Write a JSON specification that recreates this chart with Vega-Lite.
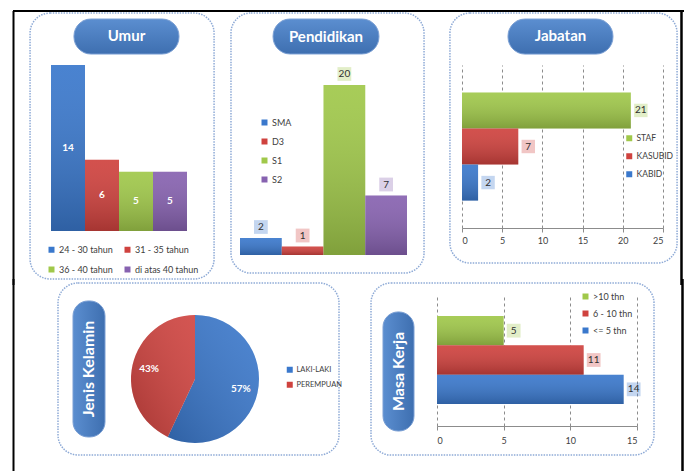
{
  "$schema": "https://vega.github.io/schema/vega-lite/v6.json",
  "background": "white",
  "padding": {"left": 12, "top": 9, "right": 0, "bottom": 0},
  "config": {
    "view": {"stroke": null},
    "font": "Lato",
    "legend": {"labelFont": "Lato", "labelColor": "#404040", "labelFontSize": 9, "symbolType": "square", "symbolSize": 36, "symbolOpacity": 1, "symbolStrokeWidth": 0, "labelOffset": 3}
  },
  "spacing": -10,
  "resolve": {"scale": {"color": "independent"}, "legend": {"color": "independent"}},
  "vconcat": [
    {
      "spacing": -7,
      "resolve": {"scale": {"color": "independent"}, "legend": {"color": "independent"}},
      "hconcat": [
        {
          "width": 136, "height": 166,
          "resolve": {"scale": {"x": "independent", "y": "independent"}},
          "layer": [
            {
              "data": {"values": [{"judul": "Umur"}]},
              "layer": [
                {"mark": {"type": "rule", "color": "black", "strokeWidth": 2},
                 "encoding": {"x": {"datum": -0.2794, "type": "quantitative", "scale": {"domain": [0, 1], "nice": false}, "axis": null}, "x2": {"datum": 1.3529},
                              "y": {"datum": 1.3253, "type": "quantitative", "scale": {"domain": [0, 1], "nice": false}, "axis": null}}},
                {"mark": {"type": "rule", "color": "black", "strokeWidth": 2},
                 "encoding": {"x": {"datum": -0.2757, "type": "quantitative", "scale": {"domain": [0, 1], "nice": false}, "axis": null},
                              "y": {"datum": 1.3253, "type": "quantitative", "scale": {"domain": [0, 1], "nice": false}, "axis": null}, "y2": {"datum": -0.3253}}},
                {"mark": {"type": "rect", "cornerRadius": 20, "filled": false, "stroke": "#8eaad6", "strokeWidth": 1.5, "strokeDash": [1.5, 1.2]},
                 "encoding": {"x": {"datum": -0.154, "type": "quantitative", "scale": {"domain": [0, 1], "nice": false}, "axis": null}, "x2": {"datum": 1.199},
                              "y": {"datum": -0.289, "type": "quantitative", "scale": {"domain": [0, 1], "nice": false}, "axis": null}, "y2": {"datum": 1.313}}},
                {"mark": {"type": "rect", "cornerRadius": 17, "stroke": "#7a9fd4", "strokeWidth": 1, "fill": {"gradient": "linear", "x1": 0, "y1": 0, "x2": 0, "y2": 1, "stops": [{"offset": 0, "color": "#5b8ed0"}, {"offset": 1, "color": "#3e6fb0"}]}},
                 "encoding": {"x": {"datum": 0.169, "type": "quantitative", "scale": {"domain": [0, 1], "nice": false}, "axis": null}, "x2": {"datum": 0.941},
                              "y": {"datum": 1.066, "type": "quantitative", "scale": {"domain": [0, 1], "nice": false}, "axis": null}, "y2": {"datum": 1.277}}},
                {"mark": {"type": "text", "color": "white", "fontWeight": "bold", "fontSize": 15, "baseline": "middle"},
                 "encoding": {"x": {"datum": 0.555, "type": "quantitative", "scale": {"domain": [0, 1], "nice": false}, "axis": null},
                              "y": {"datum": 1.172, "type": "quantitative", "scale": {"domain": [0, 1], "nice": false}, "axis": null},
                              "text": {"field": "judul"}}}
              ]
            },
            {
              "data": {"values": [{"kelompok": "24 - 30 tahun", "jumlah": 14}, {"kelompok": "31 - 35 tahun", "jumlah": 6}, {"kelompok": "36 - 40 tahun", "jumlah": 5}, {"kelompok": "di atas 40 tahun", "jumlah": 5}]},
              "encoding": {
                "x": {"field": "kelompok", "type": "nominal", "sort": null, "scale": {"paddingInner": 0, "paddingOuter": 0}, "axis": null},
                "y": {"field": "jumlah", "type": "quantitative", "scale": {"domain": [0, 14], "nice": false}, "axis": null}
              },
              "layer": [
                {"mark": {"type": "bar"},
                 "encoding": {"color": {"field": "kelompok", "type": "nominal", "sort": null,
                   "scale": {"domain": ["24 - 30 tahun", "31 - 35 tahun", "36 - 40 tahun", "di atas 40 tahun"], "range": ["#3a78cc", "#cf423e", "#a0c84a", "#8762b0"]},
                   "legend": {"title": null, "orient": "none", "direction": "horizontal", "legendX": -4, "legendY": 180, "columns": 2, "columnPadding": 10, "rowPadding": 10}}}},
                {"mark": {"type": "bar", "fill": {"gradient": "linear", "x1": 0, "y1": 0, "x2": 0, "y2": 1, "stops": [{"offset": 0, "color": "rgba(255,255,255,0.08)"}, {"offset": 1, "color": "rgba(0,0,0,0.2)"}]}}}
              ]
            },
            {
              "data": {"values": [{"kelompok": "24 - 30 tahun", "jumlah": 14}, {"kelompok": "31 - 35 tahun", "jumlah": 6}, {"kelompok": "36 - 40 tahun", "jumlah": 5}, {"kelompok": "di atas 40 tahun", "jumlah": 5}]},
              "mark": {"type": "text", "color": "white", "fontWeight": "bold", "fontSize": 10, "baseline": "middle"},
              "encoding": {
                "x": {"field": "kelompok", "type": "nominal", "sort": null, "scale": {"paddingInner": 0, "paddingOuter": 0}, "axis": null},
                "y": {"field": "jumlah", "type": "quantitative", "scale": {"domain": [0, 28], "nice": false}, "axis": null},
                "text": {"field": "jumlah"}
              }
            }
          ]
        },
        {
          "spacing": -6,
          "resolve": {"scale": {"color": "independent"}, "legend": {"color": "independent"}},
          "hconcat": [
            {
              "width": 167, "height": 190,
              "resolve": {"scale": {"x": "independent", "y": "independent"}},
              "layer": [
                {
                  "data": {"values": [{"judul": "Pendidikan"}]},
                  "layer": [
                    {"mark": {"type": "rule", "color": "black", "strokeWidth": 2},
                     "encoding": {"x": {"datum": -0.0539, "type": "quantitative", "scale": {"domain": [0, 1], "nice": false}, "axis": null}, "x2": {"datum": 1.2635},
                                  "y": {"datum": 1.2842, "type": "quantitative", "scale": {"domain": [0, 1], "nice": false}, "axis": null}}},
                    {"mark": {"type": "rect", "cornerRadius": 20, "filled": false, "stroke": "#8eaad6", "strokeWidth": 1.5, "strokeDash": [1.5, 1.2]},
                     "encoding": {"x": {"datum": -0.054, "type": "quantitative", "scale": {"domain": [0, 1], "nice": false}, "axis": null}, "x2": {"datum": 1.102},
                                  "y": {"datum": -0.095, "type": "quantitative", "scale": {"domain": [0, 1], "nice": false}, "axis": null}, "y2": {"datum": 1.274}}},
                    {"mark": {"type": "rect", "cornerRadius": 17, "stroke": "#7a9fd4", "strokeWidth": 1, "fill": {"gradient": "linear", "x1": 0, "y1": 0, "x2": 0, "y2": 1, "stops": [{"offset": 0, "color": "#5b8ed0"}, {"offset": 1, "color": "#3e6fb0"}]}},
                     "encoding": {"x": {"datum": 0.198, "type": "quantitative", "scale": {"domain": [0, 1], "nice": false}, "axis": null}, "x2": {"datum": 0.832},
                                  "y": {"datum": 1.058, "type": "quantitative", "scale": {"domain": [0, 1], "nice": false}, "axis": null}, "y2": {"datum": 1.242}}},
                    {"mark": {"type": "text", "color": "white", "fontWeight": "bold", "fontSize": 15, "baseline": "middle"},
                     "encoding": {"x": {"datum": 0.515, "type": "quantitative", "scale": {"domain": [0, 1], "nice": false}, "axis": null},
                                  "y": {"datum": 1.150, "type": "quantitative", "scale": {"domain": [0, 1], "nice": false}, "axis": null},
                                  "text": {"field": "judul"}}}
                  ]
                },
                {
                  "data": {"values": [{"tingkat": "SMA", "jumlah": 2}, {"tingkat": "D3", "jumlah": 1}, {"tingkat": "S1", "jumlah": 20}, {"tingkat": "S2", "jumlah": 7}]},
                  "encoding": {
                    "x": {"field": "tingkat", "type": "nominal", "sort": null, "scale": {"paddingInner": 0, "paddingOuter": 0}, "axis": null},
                    "y": {"field": "jumlah", "type": "quantitative", "scale": {"domain": [0, 22.353], "nice": false}, "axis": null}
                  },
                  "layer": [
                    {"mark": {"type": "bar"},
                     "encoding": {"color": {"field": "tingkat", "type": "nominal", "sort": null,
                       "scale": {"domain": ["SMA", "D3", "S1", "S2"], "range": ["#3a78cc", "#cf423e", "#a0c84a", "#8762b0"]},
                       "legend": {"title": null, "orient": "none", "legendX": 20, "legendY": 53, "rowPadding": 9}}}},
                    {"mark": {"type": "bar", "fill": {"gradient": "linear", "x1": 0, "y1": 0, "x2": 0, "y2": 1, "stops": [{"offset": 0, "color": "rgba(255,255,255,0.08)"}, {"offset": 1, "color": "rgba(0,0,0,0.2)"}]}}},
                    {"mark": {"type": "point", "shape": "square", "filled": true, "size": 190, "fillOpacity": 0.3, "yOffset": -11},
                     "encoding": {"color": {"field": "tingkat", "type": "nominal", "sort": null}}},
                    {"mark": {"type": "text", "color": "#303030", "fontSize": 10, "baseline": "middle", "yOffset": -11},
                     "encoding": {"text": {"field": "jumlah"}}}
                  ]
                }
              ]
            },
            {
              "width": 201, "height": 163,
              "resolve": {"scale": {"x": "independent", "y": "independent"}},
              "layer": [
                {
                  "data": {"values": [{"judul": "Jabatan"}]},
                  "layer": [
                    {"mark": {"type": "rule", "color": "black", "strokeWidth": 2},
                     "encoding": {"x": {"datum": -0.0647, "type": "quantitative", "scale": {"domain": [0, 1], "nice": false}, "axis": null}, "x2": {"datum": 1.1095},
                                  "y": {"datum": 1.3313, "type": "quantitative", "scale": {"domain": [0, 1], "nice": false}, "axis": null}}},
                    {"mark": {"type": "rule", "color": "black", "strokeWidth": 2.5},
                     "encoding": {"x": {"datum": 1.092, "type": "quantitative", "scale": {"domain": [0, 1], "nice": false}, "axis": null},
                                  "y": {"datum": 1.3313, "type": "quantitative", "scale": {"domain": [0, 1], "nice": false}, "axis": null}, "y2": {"datum": -0.3497}}},
                    {"mark": {"type": "rect", "cornerRadius": 20, "filled": false, "stroke": "#8eaad6", "strokeWidth": 1.5, "strokeDash": [1.5, 1.2]},
                     "encoding": {"x": {"datum": -0.060, "type": "quantitative", "scale": {"domain": [0, 1], "nice": false}, "axis": null}, "x2": {"datum": 1.070},
                                  "y": {"datum": -0.215, "type": "quantitative", "scale": {"domain": [0, 1], "nice": false}, "axis": null}, "y2": {"datum": 1.319}}},
                    {"mark": {"type": "rect", "cornerRadius": 17, "stroke": "#7a9fd4", "strokeWidth": 1, "fill": {"gradient": "linear", "x1": 0, "y1": 0, "x2": 0, "y2": 1, "stops": [{"offset": 0, "color": "#5b8ed0"}, {"offset": 1, "color": "#3e6fb0"}]}},
                     "encoding": {"x": {"datum": 0.229, "type": "quantitative", "scale": {"domain": [0, 1], "nice": false}, "axis": null}, "x2": {"datum": 0.751},
                                  "y": {"datum": 1.067, "type": "quantitative", "scale": {"domain": [0, 1], "nice": false}, "axis": null}, "y2": {"datum": 1.282}}},
                    {"mark": {"type": "text", "color": "white", "fontWeight": "bold", "fontSize": 15, "baseline": "middle"},
                     "encoding": {"x": {"datum": 0.490, "type": "quantitative", "scale": {"domain": [0, 1], "nice": false}, "axis": null},
                                  "y": {"datum": 1.175, "type": "quantitative", "scale": {"domain": [0, 1], "nice": false}, "axis": null},
                                  "text": {"field": "judul"}}}
                  ]
                },
                {
                  "data": {"values": [{"jabatan": "STAF", "jumlah": 21}, {"jabatan": "KASUBID", "jumlah": 7}, {"jabatan": "KABID", "jumlah": 2}]},
                  "encoding": {
                    "y": {"field": "jabatan", "type": "nominal", "sort": null, "scale": {"domain": ["STAF", "KASUBID", "KABID"], "paddingInner": 0, "paddingOuter": 0.76}, "axis": null},
                    "x": {"field": "jumlah", "type": "quantitative", "scale": {"domain": [0, 25], "nice": false},
                          "axis": {"orient": "bottom", "title": null, "values": [0, 5, 10, 15, 20, 25], "grid": true, "gridDash": [3, 3], "gridColor": "#8c8c8c", "domainColor": "#8c8c8c", "tickColor": "#8c8c8c", "tickSize": 4, "labelFontSize": 9, "labelColor": "#404040", "labelPadding": 4}}
                  },
                  "layer": [
                    {"mark": {"type": "bar"},
                     "encoding": {"color": {"field": "jabatan", "type": "nominal", "sort": null,
                       "scale": {"domain": ["STAF", "KASUBID", "KABID"], "range": ["#a0c84a", "#cf423e", "#3a78cc"]},
                       "legend": {"title": null, "orient": "none", "legendX": 163, "legendY": 69, "rowPadding": 9, "labelFontSize": 8.5}}}},
                    {"mark": {"type": "bar", "fill": {"gradient": "linear", "x1": 0, "y1": 0, "x2": 0, "y2": 1, "stops": [{"offset": 0, "color": "rgba(255,255,255,0.08)"}, {"offset": 1, "color": "rgba(0,0,0,0.2)"}]}}},
                    {"mark": {"type": "point", "shape": "square", "filled": true, "size": 180, "fillOpacity": 0.3, "xOffset": 10},
                     "encoding": {"color": {"field": "jabatan", "type": "nominal", "sort": null}}},
                    {"mark": {"type": "text", "color": "#303030", "fontSize": 10, "baseline": "middle", "xOffset": 10},
                     "encoding": {"text": {"field": "jumlah"}}}
                  ]
                }
              ]
            }
          ]
        }
      ]
    },
    {
      "spacing": 27,
      "resolve": {"scale": {"color": "independent"}, "legend": {"color": "independent"}},
      "hconcat": [
        {
          "width": 288, "height": 170,
          "resolve": {"scale": {"x": "independent", "y": "independent"}},
          "layer": [
            {
              "data": {"values": [{"judul": "Jenis Kelamin"}]},
              "layer": [
                {"mark": {"type": "rule", "color": "black", "strokeWidth": 2},
                 "encoding": {"x": {"datum": -0.1302, "type": "quantitative", "scale": {"domain": [0, 1], "nice": false}, "axis": null},
                              "y": {"datum": 1.0882, "type": "quantitative", "scale": {"domain": [0, 1], "nice": false}, "axis": null}, "y2": {"datum": -0.0882}}},
                {"mark": {"type": "rect", "cornerRadius": 20, "filled": false, "stroke": "#8eaad6", "strokeWidth": 1.5, "strokeDash": [1.5, 1.2]},
                 "encoding": {"x": {"datum": 0.0243, "type": "quantitative", "scale": {"domain": [0, 1], "nice": false}, "axis": null}, "x2": {"datum": 1.0},
                              "y": {"datum": 0.053, "type": "quantitative", "scale": {"domain": [0, 1], "nice": false}, "axis": null}, "y2": {"datum": 1.065}}},
                {"mark": {"type": "rect", "cornerRadius": 15, "stroke": "#7a9fd4", "strokeWidth": 1, "fill": {"gradient": "linear", "x1": 0, "y1": 0, "x2": 1, "y2": 0, "stops": [{"offset": 0, "color": "#5b8ed0"}, {"offset": 1, "color": "#3e6fb0"}]}},
                 "encoding": {"x": {"datum": 0.0764, "type": "quantitative", "scale": {"domain": [0, 1], "nice": false}, "axis": null}, "x2": {"datum": 0.1875},
                              "y": {"datum": 0.159, "type": "quantitative", "scale": {"domain": [0, 1], "nice": false}, "axis": null}, "y2": {"datum": 0.959}}},
                {"mark": {"type": "text", "color": "white", "fontWeight": "bold", "fontSize": 16, "baseline": "middle", "angle": 270},
                 "encoding": {"x": {"datum": 0.132, "type": "quantitative", "scale": {"domain": [0, 1], "nice": false}, "axis": null},
                              "y": {"datum": 0.559, "type": "quantitative", "scale": {"domain": [0, 1], "nice": false}, "axis": null},
                              "text": {"field": "judul"}}}
              ]
            },
            {
              "data": {"values": [{"jenis": "LAKI-LAKI", "persen": 0.57}, {"jenis": "PEREMPUAN", "persen": 0.43}]},
              "encoding": {
                "theta": {"field": "persen", "type": "quantitative", "stack": true},
                "order": {"field": "persen", "type": "quantitative", "sort": "descending"},
                "detail": {"field": "jenis"}
              },
              "layer": [
                {"mark": {"type": "arc", "outerRadius": 64},
                 "encoding": {"color": {"field": "jenis", "type": "nominal", "sort": null,
                   "scale": {"domain": ["LAKI-LAKI", "PEREMPUAN"], "range": ["#3a78cc", "#cf423e"]},
                   "legend": {"title": null, "orient": "none", "legendX": 235, "legendY": 72, "rowPadding": 6, "labelFontSize": 7.5}}}},
                {"mark": {"type": "arc", "outerRadius": 64, "fill": {"gradient": "linear", "x1": 1, "y1": 0, "x2": 0, "y2": 1, "stops": [{"offset": 0, "color": "rgba(255,255,255,0.1)"}, {"offset": 1, "color": "rgba(0,0,0,0.2)"}]}}},
                {"mark": {"type": "text", "radius": 47, "color": "white", "fontWeight": "bold", "fontSize": 10},
                 "encoding": {"text": {"field": "persen", "format": ".0%"}}}
              ]
            }
          ]
        },
        {
          "width": 200, "height": 132,
          "resolve": {"scale": {"x": "independent", "y": "independent"}},
          "layer": [
            {
              "data": {"values": [{"judul": "Masa Kerja"}]},
              "layer": [
                {"mark": {"type": "rule", "color": "black", "strokeWidth": 2.5},
                 "encoding": {"x": {"datum": 1.2275, "type": "quantitative", "scale": {"domain": [0, 1], "nice": false}, "axis": null},
                              "y": {"datum": 1.1136, "type": "quantitative", "scale": {"domain": [0, 1], "nice": false}, "axis": null}, "y2": {"datum": -0.4015}}},
                {"mark": {"type": "rect", "cornerRadius": 20, "filled": false, "stroke": "#8eaad6", "strokeWidth": 1.5, "strokeDash": [1.5, 1.2]},
                 "encoding": {"x": {"datum": -0.33, "type": "quantitative", "scale": {"domain": [0, 1], "nice": false}, "axis": null}, "x2": {"datum": 1.085},
                              "y": {"datum": -0.220, "type": "quantitative", "scale": {"domain": [0, 1], "nice": false}, "axis": null}, "y2": {"datum": 1.083}}},
                {"mark": {"type": "rect", "cornerRadius": 15, "stroke": "#7a9fd4", "strokeWidth": 1, "fill": {"gradient": "linear", "x1": 0, "y1": 0, "x2": 1, "y2": 0, "stops": [{"offset": 0, "color": "#5b8ed0"}, {"offset": 1, "color": "#3e6fb0"}]}},
                 "encoding": {"x": {"datum": -0.27, "type": "quantitative", "scale": {"domain": [0, 1], "nice": false}, "axis": null}, "x2": {"datum": -0.115},
                              "y": {"datum": -0.038, "type": "quantitative", "scale": {"domain": [0, 1], "nice": false}, "axis": null}, "y2": {"datum": 0.864}}},
                {"mark": {"type": "text", "color": "white", "fontWeight": "bold", "fontSize": 16, "baseline": "middle", "angle": 270},
                 "encoding": {"x": {"datum": -0.1925, "type": "quantitative", "scale": {"domain": [0, 1], "nice": false}, "axis": null},
                              "y": {"datum": 0.413, "type": "quantitative", "scale": {"domain": [0, 1], "nice": false}, "axis": null},
                              "text": {"field": "judul"}}}
              ]
            },
            {
              "data": {"values": [{"masa": ">10 thn", "jumlah": 5}, {"masa": "6 - 10 thn", "jumlah": 11}, {"masa": "<= 5 thn", "jumlah": 14}]},
              "encoding": {
                "y": {"field": "masa", "type": "nominal", "sort": null, "scale": {"domain": [">10 thn", "6 - 10 thn", "<= 5 thn"], "paddingInner": 0, "paddingOuter": 0.75}, "axis": null},
                "x": {"field": "jumlah", "type": "quantitative", "scale": {"domain": [0, 15], "nice": false},
                      "axis": {"orient": "bottom", "title": null, "values": [0, 5, 10, 15], "grid": true, "gridDash": [3, 3], "gridColor": "#8c8c8c", "domainColor": "#8c8c8c", "tickColor": "#8c8c8c", "tickSize": 4, "labelFontSize": 9, "labelColor": "#404040", "labelPadding": 6}}
              },
              "layer": [
                {"mark": {"type": "bar"},
                 "encoding": {"color": {"field": "masa", "type": "nominal", "sort": null,
                   "scale": {"domain": [">10 thn", "6 - 10 thn", "<= 5 thn"], "range": ["#a0c84a", "#cf423e", "#3a78cc"]},
                   "legend": {"title": null, "orient": "none", "legendX": 144, "legendY": -2, "rowPadding": 7, "labelFontSize": 9}}}},
                {"mark": {"type": "bar", "fill": {"gradient": "linear", "x1": 0, "y1": 0, "x2": 0, "y2": 1, "stops": [{"offset": 0, "color": "rgba(255,255,255,0.08)"}, {"offset": 1, "color": "rgba(0,0,0,0.2)"}]}}},
                {"mark": {"type": "point", "shape": "square", "filled": true, "size": 190, "fillOpacity": 0.3, "xOffset": 10},
                 "encoding": {"color": {"field": "masa", "type": "nominal", "sort": null}}},
                {"mark": {"type": "text", "color": "#303030", "fontSize": 10, "baseline": "middle", "xOffset": 10},
                 "encoding": {"text": {"field": "jumlah"}}}
              ]
            }
          ]
        }
      ]
    }
  ]
}
